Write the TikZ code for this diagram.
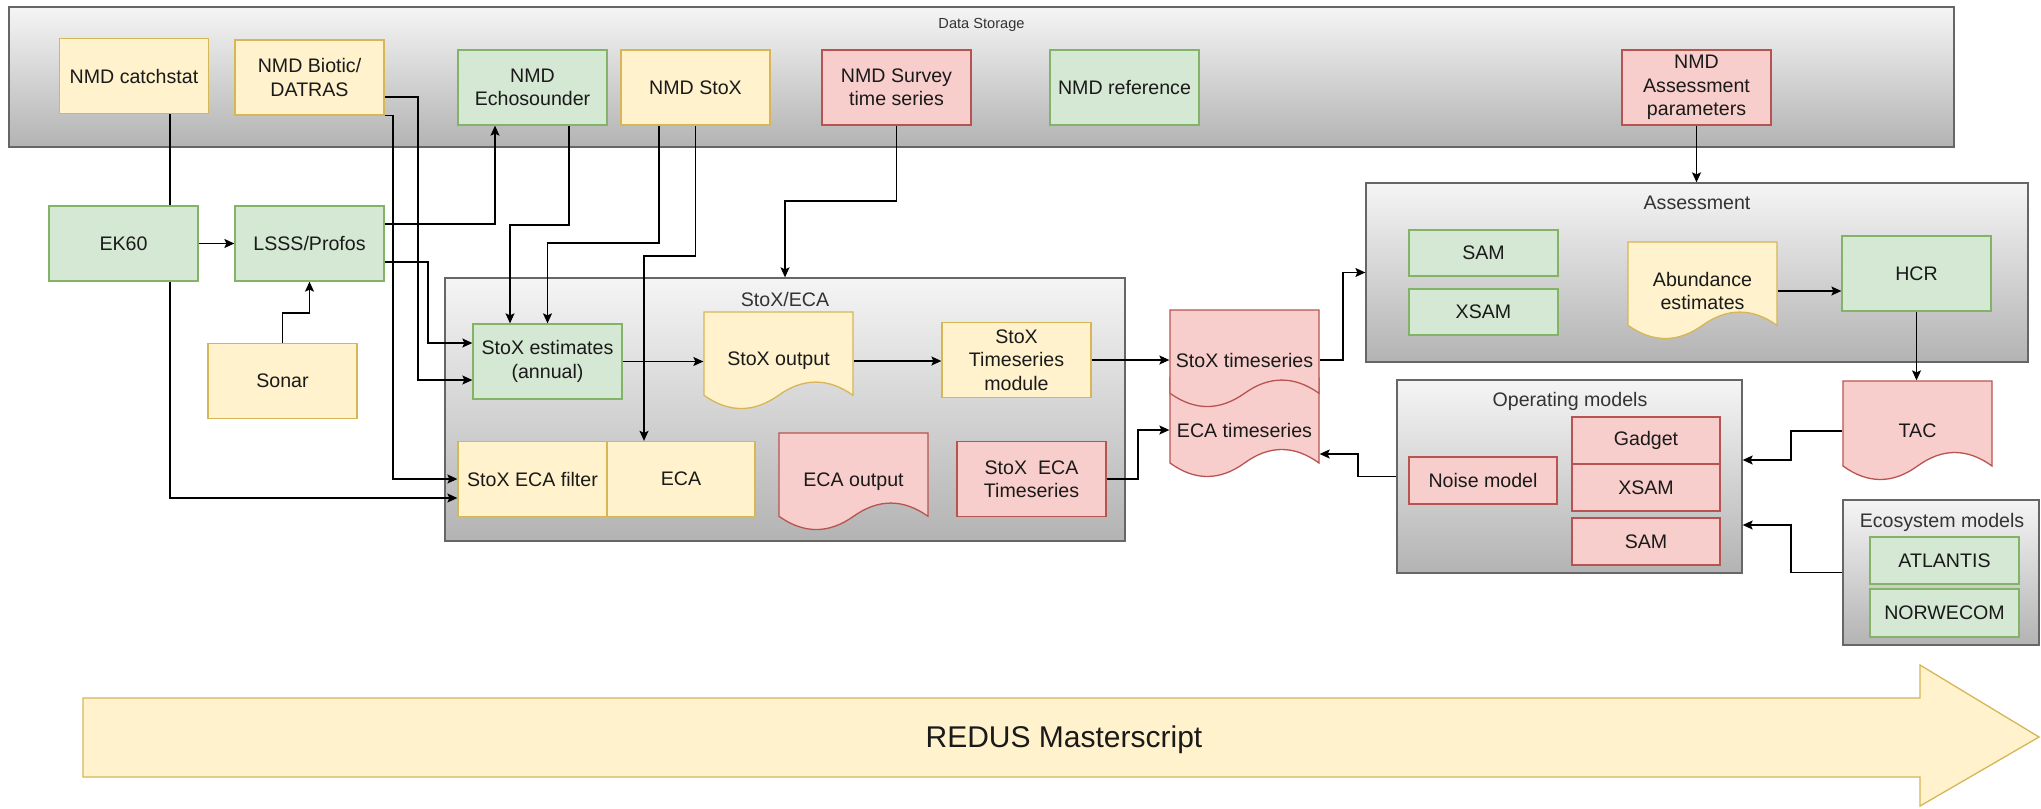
\documentclass[tikz,border=0pt]{standalone}
\usepackage{fontspec}
\setmainfont{Liberation Sans}
\usetikzlibrary{arrows.meta,calc}
\definecolor{yfill}{HTML}{FFF2CC}\definecolor{ystroke}{HTML}{D6B656}
\definecolor{gfill}{HTML}{D5E8D4}\definecolor{gstroke}{HTML}{82B366}
\definecolor{rfill}{HTML}{F8CECC}\definecolor{rstroke}{HTML}{B85450}
\definecolor{ctop}{HTML}{F5F5F5}\definecolor{cbot}{HTML}{B3B3B3}\definecolor{cstroke}{HTML}{666666}
\definecolor{txt}{HTML}{1A1A1A}\definecolor{ttxt}{HTML}{333333}
\pgfdeclarelayer{bg}\pgfdeclarelayer{edges}
\pgfsetlayers{bg,edges,main}
\newcommand\docshape[6]{%
  \path[fill=#5,draw=#6,line width=1.3pt] (#1,#2) -- ({#1+#3},#2) -- ({#1+#3},{#2+0.85*#4})
   .. controls ({#1+5*#3/6},{#2+0.67*#4}) and ({#1+2*#3/3},{#2+0.67*#4}) .. ({#1+#3/2},{#2+0.85*#4})
   .. controls ({#1+#3/3},{#2+1.03*#4}) and ({#1+#3/6},{#2+1.03*#4}) .. ({#1},{#2+0.85*#4}) -- cycle;}
\begin{document}
\begin{tikzpicture}[x=1pt,y=-1pt,
  base/.style={rectangle, inner sep=0pt, align=center, text=txt, font=\fontsize{19.6}{23.5}\selectfont, line width=1.3pt},
  ybox/.style={base, fill=yfill, draw=ystroke, minimum width=149pt, minimum height=75pt},
  gbox/.style={base, fill=gfill, draw=gstroke, minimum width=149pt, minimum height=75pt},
  rbox/.style={base, fill=rfill, draw=rstroke, minimum width=149pt, minimum height=75pt},
  docnode/.style={base, minimum width=149pt, minimum height=98pt},
  container/.style={rectangle, draw=cstroke, line width=1.3pt, top color=ctop, bottom color=cbot, inner sep=0pt},
  ctitle/.style={inner sep=0pt, text=ttxt, font=\fontsize{19.6}{23.5}\selectfont},
  conn/.style={line width=1.3pt, -{Stealth[length=10pt,width=9pt,inset=2pt]}},
  plainline/.style={line width=1.3pt}]
\useasboundingbox (0,0) rectangle (2041,808);

\begin{pgfonlayer}{bg}
\fill[white] (0,0) rectangle (2041,808);
\node[container, minimum width=1945pt, minimum height=140pt] (ds) at (981.5,77) {};
\node[container, minimum width=680pt, minimum height=263pt] (stoxeca) at (785,409.5) {};
\node[container, minimum width=662pt, minimum height=179pt] (assessment) at (1697,272.5) {};
\node[container, minimum width=345pt, minimum height=193pt] (opmodels) at (1569.5,476.5) {};
\node[container, minimum width=196pt, minimum height=145pt] (eco) at (1941,572.5) {};
\node[ctitle, font=\fontsize{14.6}{17}\selectfont] (dstitle) at (981.5,25) {Data Storage};
\node[ctitle] (stoxecatitle) at (785,299) {StoX/ECA};
\node[ctitle] (asstitle) at (1697,203) {Assessment};
\node[ctitle] (omtitle) at (1570,401) {Operating models};
\node[ctitle] (ecotitle) at (1942,522) {Ecosystem models};
\end{pgfonlayer}

% Data storage
\node[ybox] (catchstat) at (134,76) {NMD catchstat};
\node[ybox] (biotic) at (309.5,77.5) {NMD Biotic/\\DATRAS};
\node[gbox] (echo) at (532.5,87.5) {NMD\\Echosounder};
\node[ybox] (nmdstox) at (695.5,87.5) {NMD StoX};
\node[rbox] (survey) at (896.5,87.5) {NMD Survey\\time series};
\node[gbox] (reference) at (1124.5,87.5) {NMD reference};
\node[rbox] (assesspar) at (1696.5,87.5) {NMD\\Assessment\\parameters};

% left column
\node[gbox] (ek60) at (123.5,243.5) {EK60};
\node[gbox] (lsss) at (309.5,243.5) {LSSS/Profos};
\node[ybox] (sonar) at (282.5,381) {Sonar};

% StoX/ECA
\node[gbox] (stoxest) at (547.5,361.5) {StoX estimates\\(annual)};
\docshape{704}{312}{149}{98}{yfill}{ystroke}
\node[docnode] (stoxout) at (778.5,361) {StoX output};
\node[ybox] (tsmodule) at (1016.5,360) {StoX\\Timeseries\\module};
\node[ybox] (ecafilter) at (532.5,479) {StoX ECA filter};
\node[ybox, minimum width=148pt] (eca) at (681,479) {ECA};
\docshape{779}{433}{149}{98}{rfill}{rstroke}
\node[docnode] (ecaout) at (853.5,482) {ECA output};
\node[rbox] (stoxecats) at (1031.5,479) {StoX\ \ ECA\\Timeseries};

% timeseries documents
\docshape{1170}{378}{149}{100}{rfill}{rstroke}
\node[docnode, minimum height=100pt] (ecats) at (1244.5,430) {ECA timeseries};
\docshape{1170}{310}{149}{98}{rfill}{rstroke}
\node[docnode] (stoxts) at (1244.5,360) {StoX timeseries};

% Assessment
\node[gbox, minimum height=46pt] (sam) at (1483.5,253) {SAM};
\node[gbox, minimum height=46pt] (xsam) at (1483.5,312) {XSAM};
\docshape{1628}{242}{149}{98}{yfill}{ystroke}
\node[docnode] (abund) at (1702.5,291) {Abundance\\estimates};
\node[gbox] (hcr) at (1916.5,273.5) {HCR};
\docshape{1843}{381}{149}{100}{rfill}{rstroke}
\node[docnode, minimum height=100pt] (tac) at (1917.5,431) {TAC};

% Operating models
\node[rbox, minimum width=148pt, minimum height=47pt] (noise) at (1483,480.5) {Noise model};
\node[rbox, minimum width=148pt, minimum height=47pt] (gadget) at (1646,440.5) {Gadget};
\node[rbox, minimum width=148pt, minimum height=47pt] (xsamom) at (1646,487.5) {XSAM};
\node[rbox, minimum width=148pt, minimum height=47pt] (samom) at (1646,541.5) {SAM};

% Ecosystem models
\node[gbox, minimum height=47pt] (atlantis) at (1944.5,560.5) {ATLANTIS};
\node[gbox, minimum height=48pt] (norwecom) at (1944.5,613) {NORWECOM};

% REDUS arrow
\path[fill=yfill, draw=ystroke, line width=1.3pt] (83,698) -- (1920,698) -- (1920,665) -- (2039,737) -- (1920,806) -- (1920,777) -- (83,777) -- cycle;
\node[base, font=\fontsize{30}{36}\selectfont] (redus) at (1064,740) {REDUS Masterscript};

\begin{pgfonlayer}{edges}
\draw[conn] ([xshift=36pt]catchstat.south) |- ([yshift=-19pt]ecafilter.west);
\draw[conn] ([yshift=-19.5pt]biotic.east) -| (418,380) -- ([yshift=-18.5pt]stoxest.west);
\draw[conn] (biotic.south east) -| (393,479) -- (ecafilter.west);
\draw[conn] ([xshift=36.5pt]echo.south) -- (569,225) -| ([xshift=-37.5pt]stoxest.north);
\draw[conn] ([xshift=-36.5pt]nmdstox.south) -- (659,243) -| (stoxest.north);
\draw[conn] (nmdstox.south) -- (695.5,256) -| ([xshift=-37pt]eca.north);
\draw[conn] (survey.south) -- (896.5,201) -| (stoxeca.north);
\draw[conn] ([yshift=19.5pt]lsss.east) -| ([xshift=-37.5pt]echo.south);
\draw[conn] ([yshift=-18.5pt]lsss.east) -| (428,343) -- ([yshift=18.5pt]stoxest.west);
\draw[conn] (ek60.east) -- (lsss.west);
\draw[conn] (sonar.north) -- (282.5,313) -| (lsss.south);
\draw[conn] (stoxest.east) -- (stoxest.east -| stoxout.west);
\draw[conn] (stoxout.east) -- (stoxout.east -| tsmodule.west);
\draw[conn] (tsmodule.east) -- (tsmodule.east -| stoxts.west);
\draw[conn] (stoxts.east) -- (1343,360) |- (assessment.west);
\draw[conn] (stoxecats.east) -- (1138,479) |- (ecats.west);
\draw[conn] (opmodels.west) -- (1358,476.5) |- ([yshift=-24pt]ecats.east);
\draw[conn] (assesspar.south) -- (assesspar.south |- assessment.north);
\draw[conn] (abund.east) -- (abund.east -| hcr.west);
\draw[conn] (hcr.south) -- (hcr.south |- tac.north);
\draw[conn] (tac.west) -- (1791,431) |- ([yshift=16.5pt]opmodels.east);
\draw[conn] (eco.west) -- (1791,572.5) |- ([yshift=-48.5pt]opmodels.east);
\end{pgfonlayer}
\end{tikzpicture}
\end{document}
